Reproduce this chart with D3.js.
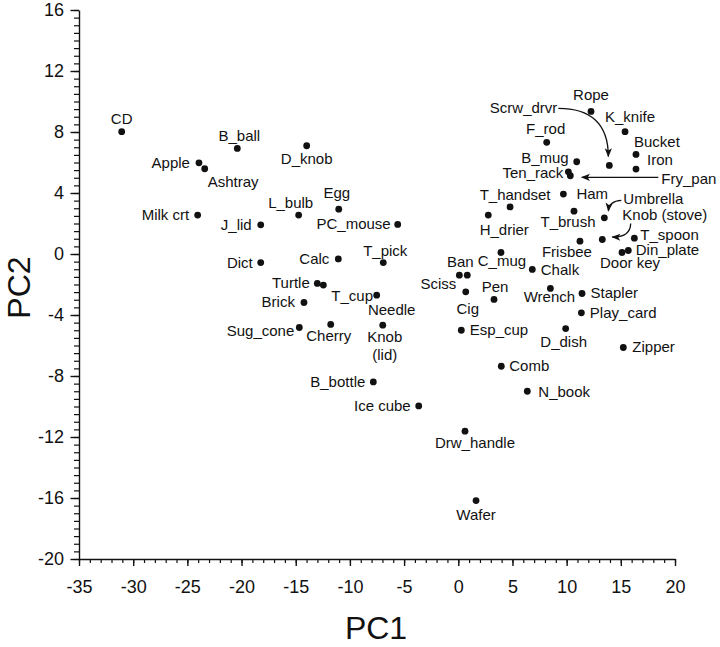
<!DOCTYPE html>
<html>
<head>
<meta charset="utf-8">
<script src="https://cdn.jsdelivr.net/npm/d3@7"></script>
<style>
  html, body { margin: 0; padding: 0; background: #fff; }
  svg { display: block; }
  text { font-family: "Liberation Sans", Arial, Helvetica, sans-serif; fill: #111; }
</style>
</head>
<body>
<svg id="chart" width="720" height="647"></svg>
<script>
// ---------------- DATA ----------------
const names = ["CD","B_ball","D_knob","Apple","Ashtray","L_bulb","Egg","Milk crt","J_lid","PC_mouse",
  "Dict","Calc","T_pick","Turtle","T_cup","Needle","Brick","Sug_cone","Cherry","Knob\n(lid)",
  "B_bottle","Ice cube","Drw_handle","Wafer","Rope","K_knife","Scrw_drvr","F_rod","Bucket","Iron",
  "B_mug","Ten_rack","Fry_pan","T_handset","Ham","H_drier","T_brush","Umbrella","Knob (stove)","Frisbee",
  "T_spoon","Door key","Din_plate","Ban","Sciss","Cig","C_mug","Chalk","Pen","Wrench",
  "Stapler","Play_card","Esp_cup","D_dish","Zipper","Comb","N_book"];
const pc1 = [-31.06,-20.39,-13.99,-23.93,-23.40,-14.73,-11.03,-24.05,-18.23,-5.59,
  -18.23,-11.07,-6.92,-13.01,-12.45,-7.53,-14.24,-14.67,-11.77,-6.97,
  -7.84,-3.65,0.62,1.64,12.25,15.39,13.94,8.16,16.40,16.40,
  10.93,10.16,10.34,4.78,9.70,2.77,10.68,13.48,13.29,11.23,
  16.25,15.11,15.69,0.10,0.83,0.69,3.94,6.83,3.30,8.50,
  11.42,11.36,0.28,9.91,15.23,3.97,6.37];
const pc2 = [8.02,6.92,7.10,5.98,5.59,2.55,2.94,2.55,1.91,1.94,
  -0.56,-0.32,-0.56,-1.93,-2.04,-2.70,-3.18,-4.82,-4.62,-4.67,
  -8.39,-9.96,-11.62,-16.17,9.35,8.02,5.81,7.32,6.53,5.57,
  6.05,5.39,5.13,3.09,3.93,2.55,2.81,2.37,0.95,0.84,
  1.04,0.10,0.23,-1.39,-1.39,-2.48,0.10,-1.01,-2.98,-2.26,
  -2.59,-3.86,-5.00,-4.89,-6.13,-7.36,-9.00];
const xTicks = [-35,-30,-25,-20,-15,-10,-5,0,5,10,15,20];
const yTicks = [-20,-16,-12,-8,-4,0,4,8,12,16];
const xTitle = "PC1";
const yTitle = "PC2";

// ---------------- LAYOUT (label placement, px offsets from dot) ----------------
const place = {
  "CD":[0,-8,"middle"], "B_ball":[2,-7,"middle"], "D_knob":[0,18,"middle"], "Apple":[-9,5,"end"],
  "Ashtray":[3,18,"start"], "L_bulb":[-8,-7,"middle"], "Egg":[-2,-11,"middle"], "Milk crt":[-8.5,5,"end"],
  "J_lid":[-9,5,"end"], "PC_mouse":[-7,5,"end"], "Dict":[-8,5,"end"], "Calc":[-9,5,"end"],
  "T_pick":[2,-7,"middle"], "Turtle":[-7.5,5,"end"], "T_cup":[8,16,"start"], "Needle":[15,20,"middle"],
  "Brick":[-9,5,"end"], "Sug_cone":[-5,8,"end"], "Cherry":[-2,17,"middle"], "Knob\n(lid)":[2,17,"middle"],
  "B_bottle":[-8,5,"end"], "Ice cube":[-8,5,"end"], "Drw_handle":[10,17,"middle"], "Wafer":[0,19,"middle"],
  "Rope":[0,-11,"middle"], "K_knife":[5,-10,"middle"], "Scrw_drvr":[-52,-52,"end"], "F_rod":[-1,-8,"middle"],
  "Bucket":[-2,-7,"start"], "Iron":[11,-4,"start"], "B_mug":[-8,1,"end"], "Ten_rack":[-5,6,"end"],
  "Fry_pan":[91,8,"start"], "T_handset":[5,-7,"middle"], "Ham":[13,5,"start"], "H_drier":[16,20,"middle"],
  "T_brush":[-6,16,"middle"], "Umbrella":[19,-14,"start"], "Knob (stove)":[20,-20,"start"], "Frisbee":[-13,16,"middle"],
  "T_spoon":[6,1.5,"start"], "Door key":[8,16,"middle"], "Din_plate":[7.5,5,"start"], "Ban":[1,-8,"middle"],
  "Sciss":[-11,14,"end"], "Cig":[2,22,"middle"], "C_mug":[1,13.5,"middle"], "Chalk":[8.5,5.5,"start"],
  "Pen":[1,-7.5,"middle"], "Wrench":[-1,14,"middle"], "Stapler":[8.5,5,"start"], "Play_card":[8.5,5.5,"start"],
  "Esp_cup":[8.5,5,"start"], "D_dish":[-2,18,"middle"], "Zipper":[9,5,"start"], "Comb":[8,5,"start"],
  "N_book":[11,5.5,"start"]
};
// arrow paths relative to the dot
const arrows = {
  "Scrw_drvr": "M-51,-57 C-19,-57 -1,-42 -1,-9",
  "Fry_pan": "M88,1.6 L11.5,1.6",
  "Umbrella": "M17,-17.5 Q5,-17 4,-7",
  "Knob (stove)": "M28.4,-16 Q28,-2 10,-2.5"
};

// ---------------- DRAW ----------------
const svg = d3.select("#chart");
const x = d3.scaleLinear().domain([-35, 20]).range([79, 675]);
const y = d3.scaleLinear().domain([-20, 16]).range([559, 10]);

svg.append("defs").append("marker")
  .attr("id", "ah").attr("viewBox", "0 -5 10 10")
  .attr("refX", 9).attr("refY", 0)
  .attr("markerWidth", 10).attr("markerHeight", 9)
  .attr("markerUnits", "userSpaceOnUse").attr("orient", "auto")
  .append("path").attr("d", "M0,-4L10,0L0,4L2.5,0Z").attr("fill", "#111");

// minor ticks
svg.append("g").attr("transform", "translate(0,559)")
  .call(d3.axisBottom(x).tickValues(d3.range(-35, 20.5, 1)).tickSize(4).tickFormat(""))
  .call(g => g.select(".domain").remove())
  .call(g => g.selectAll("line").attr("stroke", "#111").attr("stroke-width", 1.2));
svg.append("g").attr("transform", "translate(79,0)")
  .call(d3.axisLeft(y).tickValues(d3.range(-20, 16.25, 0.5)).tickSize(5).tickFormat(""))
  .call(g => g.select(".domain").remove())
  .call(g => g.selectAll("line").attr("stroke", "#111").attr("stroke-width", 1.2));

// major axes
const fmt = d => String(d);
const gx = svg.append("g").attr("transform", "translate(0,559)")
  .call(d3.axisBottom(x).tickValues(xTicks).tickFormat(fmt).tickSize(7).tickPadding(14).tickSizeOuter(0));
const gy = svg.append("g").attr("transform", "translate(79,0)")
  .call(d3.axisLeft(y).tickValues(yTicks).tickFormat(fmt).tickSize(8.5).tickPadding(6.5).tickSizeOuter(0));
[gx, gy].forEach(g => {
  g.select(".domain").attr("stroke", "#111").attr("stroke-width", 1.4);
  g.selectAll(".tick line").attr("stroke", "#111").attr("stroke-width", 1.4);
  g.selectAll(".tick text").attr("font-size", 18).attr("fill", "#111")
    .attr("font-family", "'Liberation Sans', Arial, Helvetica, sans-serif");
});

// axis titles
svg.append("text").attr("x", (x(-35) + x(20)) / 2 - 1).attr("y", 639)
  .attr("text-anchor", "middle").attr("font-size", 32).text(xTitle);
svg.append("text").attr("transform", `translate(30,${(y(-20) + y(16)) / 2 + 3}) rotate(-90)`)
  .attr("text-anchor", "middle").attr("font-size", 32).text(yTitle);

// points
const pts = names.map((n, i) => ({ name: n, px: x(pc1[i]), py: y(pc2[i]) }));

svg.append("g").selectAll("circle").data(pts).join("circle")
  .attr("cx", d => d.px).attr("cy", d => d.py).attr("r", 3.4).attr("fill", "#111");

// labels
const lg = svg.append("g").attr("font-size", 15);
pts.forEach(d => {
  const p = place[d.name] || [8, 5, "start"];
  const t = lg.append("text").attr("text-anchor", p[2])
    .attr("x", d.px + p[0]).attr("y", d.py + p[1]);
  const lines = d.name.split("\n");
  lines.forEach((ln, k) => {
    t.append("tspan").attr("x", d.px + p[0]).attr("dy", k === 0 ? 0 : 18).text(ln);
  });
});

// arrows
pts.filter(d => arrows[d.name]).forEach(d => {
  svg.append("path").attr("transform", `translate(${d.px},${d.py})`)
    .attr("d", arrows[d.name]).attr("fill", "none").attr("stroke", "#111")
    .attr("stroke-width", 1.3).attr("marker-end", "url(#ah)");
});
</script>
</body>
</html>
